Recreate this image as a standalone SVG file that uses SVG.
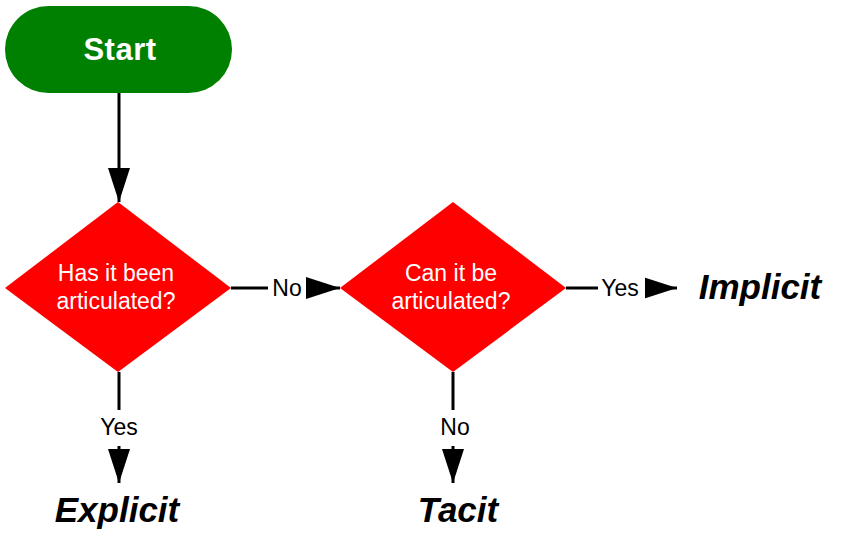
<svg xmlns="http://www.w3.org/2000/svg" width="850" height="543" viewBox="0 0 850 543">
<defs>
<marker id="arr" markerUnits="userSpaceOnUse" markerWidth="34" markerHeight="22" refX="34" refY="11" orient="auto">
<path d="M0,0 L34,11 L0,22 z" fill="#000"/>
</marker>
</defs>
<style>
.edge{stroke:#000;stroke-width:3;fill:none}
.lbl{font-family:"Liberation Sans",Arial,sans-serif;font-size:23px;fill:#000;text-anchor:middle}
.lblbg{fill:#fff}
.q{font-family:"Liberation Sans",Arial,sans-serif;font-size:23px;fill:#fff;text-anchor:middle}
.out{font-family:"Liberation Sans",Arial,sans-serif;font-size:35px;font-weight:bold;font-style:italic;fill:#000;text-anchor:middle}
.dia{fill:#ff0000}
</style>
<rect width="850" height="543" fill="#fff"/>
<g id="connectors">
<line class="edge" x1="119" y1="93" x2="119" y2="202" marker-end="url(#arr)"/>
<line class="edge" x1="231" y1="288" x2="340" y2="288" marker-end="url(#arr)"/>
<rect class="lblbg" x="268" y="276" width="38" height="24"/>
<text class="lbl" x="287" y="296">No</text>
<line class="edge" x1="119" y1="372" x2="119" y2="483" marker-end="url(#arr)"/>
<rect class="lblbg" x="96" y="410" width="46" height="36"/>
<text class="lbl" x="119" y="435">Yes</text>
<line class="edge" x1="453" y1="372" x2="453" y2="483" marker-end="url(#arr)"/>
<rect class="lblbg" x="434" y="410" width="40" height="36"/>
<text class="lbl" x="455" y="435">No</text>
<line class="edge" x1="566" y1="288" x2="677" y2="288" marker-end="url(#arr)"/>
<rect class="lblbg" x="598" y="276" width="47" height="24"/>
<text class="lbl" x="620" y="296">Yes</text>
</g>
<g id="start">
<rect x="5" y="6" width="227" height="87" rx="43.5" ry="43.5" fill="#008000"/>
<text x="120" y="60" font-family="'Liberation Sans',Arial,sans-serif" font-size="31" font-weight="bold" fill="#fff" text-anchor="middle" letter-spacing="0.5">Start</text>
</g>
<g id="q1">
<polygon class="dia" points="118,202 231,288 118,372 5,288"/>
<text class="q" x="116" y="281">Has it been</text>
<text class="q" x="116" y="309">articulated?</text>
</g>
<g id="q2">
<polygon class="dia" points="453,202 566,288 453,372 340,288"/>
<text class="q" x="451" y="281">Can it be</text>
<text class="q" x="451" y="309">articulated?</text>
</g>
<g id="implicit">
<text class="out" x="760" y="299">Implicit</text>
</g>
<g id="explicit">
<text class="out" x="117" y="522">Explicit</text>
</g>
<g id="tacit">
<text class="out" x="458" y="522">Tacit</text>
</g>
</svg>
